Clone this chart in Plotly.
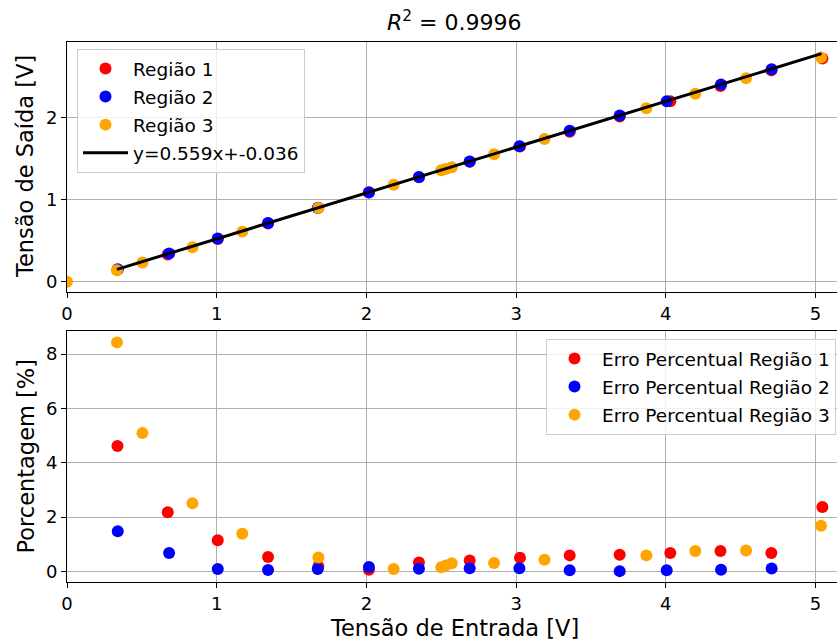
import plotly.graph_objects as go

# ---------------- data ----------------
r1_x = [0.337, 0.673, 1.007, 1.343, 1.679, 2.017, 2.351, 2.690, 3.026, 3.358, 3.692, 4.030, 4.365, 4.705, 5.046]
r1_y = [0.146, 0.333, 0.521, 0.711, 0.901, 1.090, 1.274, 1.462, 1.648, 1.830, 2.016, 2.202, 2.386, 2.577, 2.721]
r1_err = [4.62, 2.18, 1.15, 0.53, 0.18, 0.06, 0.33, 0.40, 0.50, 0.59, 0.61, 0.68, 0.75, 0.68, 2.37]

r2_x = [0.339, 0.682, 1.007, 1.343, 1.675, 2.017, 2.351, 2.690, 3.022, 3.358, 3.692, 4.006, 4.369, 4.707]
r2_y = [0.151, 0.343, 0.527, 0.715, 0.899, 1.089, 1.277, 1.466, 1.651, 1.840, 2.028, 2.202, 2.405, 2.592]
r2_err = [1.48, 0.68, 0.09, 0.05, 0.09, 0.16, 0.10, 0.12, 0.12, 0.04, 0.01, 0.04, 0.06, 0.11]

r3_x = [0.000, 0.334, 0.504, 0.838, 1.171, 1.679, 2.182, 2.500, 2.530, 2.570, 2.853, 3.190, 3.870, 4.197, 4.536, 5.037]
r3_y = [0.000, 0.139, 0.234, 0.421, 0.611, 0.899, 1.183, 1.359, 1.375, 1.397, 1.554, 1.740, 2.115, 2.293, 2.480, 2.734]
r3_err_x = [0.334, 0.504, 0.838, 1.171, 1.679, 2.182, 2.500, 2.530, 2.570, 2.853, 3.190, 3.870, 4.197, 4.536, 5.037]
r3_err = [8.43, 5.09, 2.51, 1.39, 0.51, 0.09, 0.15, 0.22, 0.30, 0.31, 0.43, 0.59, 0.75, 0.77, 1.68]

fit_slope = 0.559
fit_intercept = -0.036
fit_x = [0.334, 5.040]
fit_label = "y=0.559x+-0.036"
r2_value = "0.9996"

names_top = ["Região 1", "Região 2", "Região 3"]
names_bot = ["Erro Percentual Região 1", "Erro Percentual Região 2", "Erro Percentual Região 3"]
colors = ["#ff0000", "#0000ff", "#ffa500"]

top_ticks = [0, 1, 2]
bot_ticks = [0, 2, 4, 6, 8]
x_ticks = [0, 1, 2, 3, 4, 5]

# ---------------- figure ----------------
FONT = "DejaVu Sans"
TICK_FS = 18
LEG_FS = 18.5
LAB_FS = 22.5
W, H = 837, 642
ML, MR, MT, MB = 67, 0, 42, 60
PW, PH = W - ML - MR, H - MT - MB


def px_x(p):
    return (p - ML) / PW


def px_y(p):
    return (H - MB - p) / PH


fig = go.Figure()
MS = 12

for xs, ys, nm, c, g in [(r1_x, r1_y, names_top[0], colors[0], "a"),
                         (r2_x, r2_y, names_top[1], colors[1], "b"),
                         (r3_x, r3_y, names_top[2], colors[2], "c")]:
    fig.add_trace(go.Scatter(x=xs, y=ys, mode="markers", name=nm,
                             marker=dict(color=c, size=MS, line=dict(width=0)),
                             xaxis="x", yaxis="y", legend="legend", legendgroup=g))

fit_y = [fit_slope * v + fit_intercept for v in fit_x]
fig.add_trace(go.Scatter(x=fit_x, y=fit_y, mode="lines", name=fit_label,
                         line=dict(color="black", width=3),
                         xaxis="x", yaxis="y", legend="legend", legendgroup="d"))

for xs, ys, nm, c, g in [(r1_x, r1_err, names_bot[0], colors[0], "e"),
                         (r2_x, r2_err, names_bot[1], colors[1], "f"),
                         (r3_err_x, r3_err, names_bot[2], colors[2], "g")]:
    fig.add_trace(go.Scatter(x=xs, y=ys, mode="markers", name=nm,
                             marker=dict(color=c, size=MS, line=dict(width=0)),
                             xaxis="x2", yaxis="y2", legend="legend2", legendgroup=g))

axis_common = dict(showgrid=True, gridcolor="#b0b0b0", gridwidth=1,
                   showline=True, linecolor="black", linewidth=1,
                   ticks="outside", ticklen=5, tickwidth=1, tickcolor="black",
                   zeroline=False, tickfont=dict(family=FONT, size=TICK_FS, color="black"))

xr = [0, (W - ML) / 149.7]

fig.update_layout(
    width=W, height=H, autosize=False,
    margin=dict(l=ML, r=MR, t=MT, b=MB, pad=0),
    plot_bgcolor="white", paper_bgcolor="white",
    font=dict(family=FONT, size=TICK_FS, color="black"),
    xaxis=dict(domain=[0, 1], anchor="y", range=xr, tickvals=x_ticks, mirror=True, **axis_common),
    yaxis=dict(domain=[px_y(292), 1], anchor="x", range=[-0.125, 2.923], tickvals=top_ticks, **axis_common),
    xaxis2=dict(domain=[0, 1], anchor="y2", range=xr, tickvals=x_ticks, mirror=True, **axis_common),
    yaxis2=dict(domain=[0, px_y(330.7)], anchor="x2", range=[-0.39, 8.86], tickvals=bot_ticks, **axis_common),
    legend=dict(x=px_x(77), y=px_y(49), xanchor="left", yanchor="top",
                bgcolor="rgba(255,255,255,0.8)", bordercolor="#cccccc", borderwidth=1,
                font=dict(family=FONT, size=LEG_FS, color="black"),
                tracegroupgap=1, itemwidth=45),
    legend2=dict(x=px_x(836), y=px_y(339), xanchor="right", yanchor="top",
                 bgcolor="rgba(255,255,255,0.8)", bordercolor="#cccccc", borderwidth=1,
                 font=dict(family=FONT, size=LEG_FS, color="black"),
                 tracegroupgap=1, itemwidth=45),
    showlegend=True,
    annotations=[
        dict(text="<i>R</i><sup>2</sup> = " + r2_value, xref="paper", yref="paper",
             x=px_x(455), y=px_y(21), xanchor="center", yanchor="middle",
             showarrow=False, font=dict(family=FONT, size=22, color="black")),
        dict(text="Tensão de Entrada [V]", xref="paper", yref="paper",
             x=px_x(455), y=px_y(628), xanchor="center", yanchor="middle",
             showarrow=False, font=dict(family=FONT, size=LAB_FS, color="black")),
        dict(text="Tensão de Saída [V]", xref="paper", yref="paper",
             x=px_x(25), y=px_y(167), xanchor="center", yanchor="middle", textangle=-90,
             showarrow=False, font=dict(family=FONT, size=LAB_FS, color="black")),
        dict(text="Porcentagem [%]", xref="paper", yref="paper",
             x=px_x(25), y=px_y(456.5), xanchor="center", yanchor="middle", textangle=-90,
             showarrow=False, font=dict(family=FONT, size=LAB_FS, color="black")),
    ],
)

fig.write_html("out.html")
